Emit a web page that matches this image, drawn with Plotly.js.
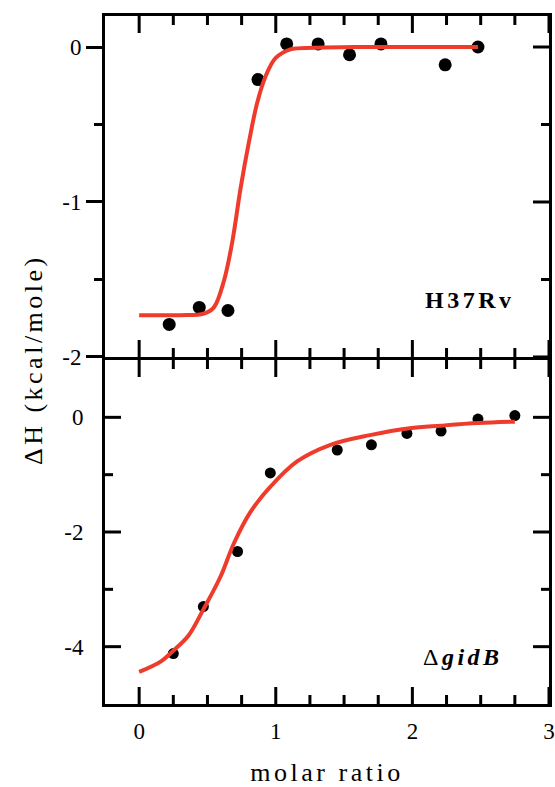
<!DOCTYPE html>
<html><head><meta charset="utf-8">
<script src="https://cdn.plot.ly/plotly-3.0.1.min.js"></script>
<style>
html,body{margin:0;padding:0;background:#fff;}
#chart{width:555px;height:787px;}
.xtitle{letter-spacing:3.5px;}
.annotation-text{letter-spacing:3.5px;}
</style></head><body><div id="chart"></div>
<script>
// H37Rv (top panel) measured points
const h37X = [0.22, 0.44, 0.65, 0.87, 1.08, 1.31, 1.54, 1.77, 2.24, 2.48];
const h37Y = [-1.79, -1.68, -1.70, -0.21, 0.02, 0.02, -0.05, 0.02, -0.115, 0.0];
// H37Rv fit curve
const h37FitX = [0, 0.3, 0.474, 0.547, 0.62, 0.682, 0.742, 0.803, 0.864, 0.925, 0.998, 1.107, 1.277, 1.6, 2.0, 2.48];
const h37FitY = [-1.73, -1.73, -1.72, -1.68, -1.51, -1.255, -0.914, -0.616, -0.36, -0.19, -0.072, -0.015, -0.005, 0, 0, 0];
// gidB (bottom panel) measured points
const gidX = [0.25, 0.47, 0.72, 0.96, 1.45, 1.70, 1.96, 2.21, 2.48, 2.75];
const gidY = [-4.12, -3.30, -2.34, -0.97, -0.57, -0.48, -0.28, -0.24, -0.03, 0.03];
// gidB fit curve
const gidFitX = [0, 0.157, 0.25, 0.363, 0.47, 0.595, 0.693, 0.815, 0.961, 1.156, 1.40, 1.69, 1.98, 2.21, 2.48, 2.75];
const gidFitY = [-4.44, -4.26, -4.07, -3.80, -3.35, -2.78, -2.20, -1.65, -1.21, -0.77, -0.48, -0.31, -0.19, -0.145, -0.10, -0.075];
// axis ranges
const xRange = [-0.25, 3];
const topRange = [-2, 0.2];
const botRange = [-5, 1];
// ticks and tick labels
const xTickVals = [0, 1, 2, 3];
const xTickText = ['0', '1', '2', '3'];
const xMinorVals = [0.25, 0.5, 0.75, 1.25, 1.5, 1.75, 2.25, 2.5, 2.75];
const topTickVals = [-2, -1, 0];
const topTickText = ['-2', '-1', '0'];
const topMinorVals = [-1.5, -0.5];
const botTickVals = [-4, -2, 0];
const botTickText = ['-4', '-2', '0'];
const botMinorVals = [-3, -1];

const FONT = 'Liberation Serif';
const RED = '#ef3b2c';

// inward tick marks on the frame edges, as pixel-sized line shapes anchored at each tick value
const TL = {color: '#000', width: 3};
function vTicks(vals, xref, yref, yEdge, len) {
  return vals.map(v => ({type: 'line', layer: 'above', xref: xref, yref: yref, x0: v, x1: v,
    ysizemode: 'pixel', yanchor: yEdge, y0: 0, y1: len, line: TL}));
}
function hTicks(vals, xref, yref, xEdge, len) {
  return vals.map(v => ({type: 'line', layer: 'above', xref: xref, yref: yref, y0: v, y1: v,
    xsizemode: 'pixel', xanchor: xEdge, x0: 0, x1: len, line: TL}));
}
const XMAJ = 17, XMIN = 9, YMAJ = 16, YMIN = 8;
const shapes = [].concat(
  // top panel: top edge (down), bottom edge (up), right edge (left)
  vTicks(xTickVals, 'x2', 'y2', topRange[1], -XMAJ), vTicks(xMinorVals, 'x2', 'y2', topRange[1], -XMIN),
  vTicks(xTickVals, 'x2', 'y2', topRange[0], XMAJ), vTicks(xMinorVals, 'x2', 'y2', topRange[0], XMIN),
  hTicks(topTickVals, 'x2', 'y2', xRange[1], -YMAJ), hTicks(topMinorVals, 'x2', 'y2', xRange[1], -YMIN),
  // bottom panel: top edge (down), bottom edge (up), left edge (right), right edge (left)
  vTicks(xTickVals, 'x', 'y', botRange[1], -XMAJ), vTicks(xMinorVals, 'x', 'y', botRange[1], -XMIN),
  vTicks(xTickVals, 'x', 'y', botRange[0], XMAJ), vTicks(xMinorVals, 'x', 'y', botRange[0], XMIN),
  hTicks(botTickVals, 'x', 'y', xRange[0], YMAJ), hTicks(botMinorVals, 'x', 'y', xRange[0], YMIN),
  hTicks(botTickVals, 'x', 'y', xRange[1], -YMAJ), hTicks(botMinorVals, 'x', 'y', xRange[1], -YMIN)
);

const traces = [
  {x: h37X, y: h37Y, xaxis: 'x2', yaxis: 'y2', mode: 'markers', type: 'scatter',
   marker: {color: '#000', size: 13}, hoverinfo: 'skip', showlegend: false},
  {x: h37FitX, y: h37FitY, xaxis: 'x2', yaxis: 'y2', mode: 'lines', type: 'scatter',
   line: {color: RED, width: 4, shape: 'spline', smoothing: 1}, hoverinfo: 'skip', showlegend: false},
  {x: gidX, y: gidY, xaxis: 'x', yaxis: 'y', mode: 'markers', type: 'scatter',
   marker: {color: '#000', size: 11}, hoverinfo: 'skip', showlegend: false},
  {x: gidFitX, y: gidFitY, xaxis: 'x', yaxis: 'y', mode: 'lines', type: 'scatter',
   line: {color: RED, width: 4, shape: 'spline', smoothing: 1}, hoverinfo: 'skip', showlegend: false}
];

const common = {showgrid: false, zeroline: false, showline: true, linecolor: '#000', linewidth: 3,
  tickcolor: '#000', tickwidth: 3, tickfont: {family: FONT, size: 23, color: '#000'}};

const layout = {
  width: 555, height: 787,
  margin: {l: 105, r: 6, t: 16, b: 83},
  showlegend: false,
  shapes: shapes,
  xaxis: Object.assign({}, common, {
    anchor: 'y', range: xRange, tickmode: 'array', tickvals: xTickVals, ticktext: xTickText,
    ticks: '', mirror: true, ticklabelstandoff: 4,
    title: {text: 'molar ratio', font: {family: FONT, size: 26, color: '#000'}, standoff: 22}
  }),
  yaxis: Object.assign({}, common, {
    anchor: 'x', domain: [0, 0.5], range: botRange, tickmode: 'array', tickvals: botTickVals, ticktext: botTickText,
    ticks: '', mirror: true, ticklabelstandoff: 14
  }),
  xaxis2: Object.assign({}, common, {
    anchor: 'y2', range: xRange, tickmode: 'array', tickvals: xTickVals, ticktext: xTickText,
    showticklabels: false, ticks: '', mirror: true
  }),
  yaxis2: Object.assign({}, common, {
    anchor: 'x2', domain: [0.5044, 1], range: topRange, tickmode: 'array', tickvals: topTickVals, ticktext: topTickText,
    ticks: 'outside', ticklen: 16, mirror: true,
    minor: {tickmode: 'array', tickvals: topMinorVals, ticks: 'outside', ticklen: 8, tickwidth: 3, tickcolor: '#000'}
  }),
  annotations: [
    {text: 'ΔH (kcal/mole)', xref: 'paper', yref: 'paper', x: -0.162, y: 0.5, textangle: -90,
     xanchor: 'center', yanchor: 'middle', showarrow: false, font: {family: FONT, size: 26, color: '#000'}},
    {text: '<b>H37Rv</b>', xref: 'x2', yref: 'y2', x: 2.42, y: -1.63, xanchor: 'center', yanchor: 'middle',
     showarrow: false, font: {family: FONT, size: 24, color: '#000'}},
    {text: 'Δ<b><i>gidB</i></b>', xref: 'x', yref: 'y', x: 2.37, y: -4.18, xanchor: 'center', yanchor: 'middle',
     showarrow: false, font: {family: FONT, size: 24, color: '#000'}}
  ]
};

Plotly.newPlot('chart', traces, layout, {displayModeBar: false});
</script></body></html>
